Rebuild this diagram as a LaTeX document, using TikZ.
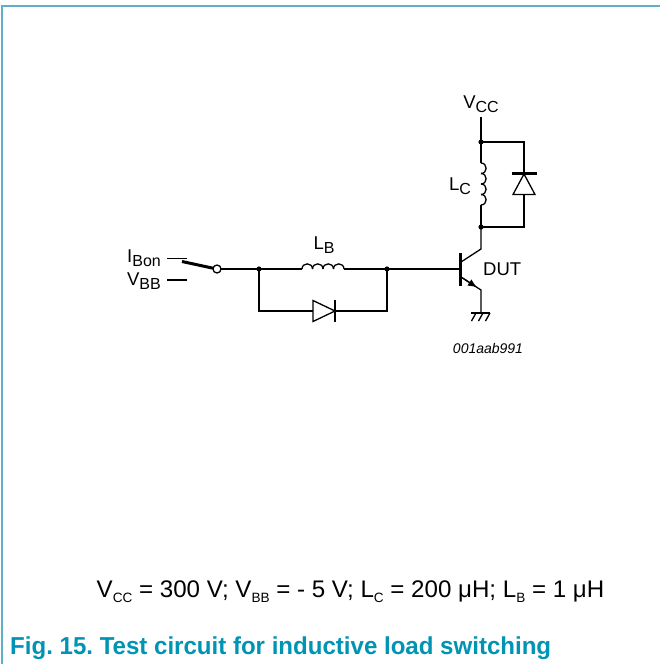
\documentclass[tikz,border=0pt]{standalone}
\usepackage{fontspec}
\setmainfont{Liberation Sans}
\newfontfamily\capfont[FakeStretch=0.982]{Liberation Sans}
\newfontfamily\formfont[FakeStretch=1.005]{Liberation Sans}
\usetikzlibrary{arrows.meta,calc}
\definecolor{framecol}{RGB}{95,175,200}
\definecolor{captcol}{RGB}{0,148,180}
\newcommand{\lsub}[1]{\raisebox{-0.45ex}{\fontsize{16}{16}\selectfont #1}}
\newcommand{\fsub}[1]{\raisebox{-0.4ex}{\fontsize{13.5}{13.5}\selectfont #1}}
\frenchspacing
\tikzset{
  wire/.style={line width=1.3pt, line join=miter},
  lbl/.style={inner sep=0pt, font=\fontsize{18.5}{18.5}\selectfont},
  dot/.style={fill=black},
  heavy/.style={line width=3pt},
}
\begin{document}
\begin{tikzpicture}[x=1pt,y=-1pt]
\useasboundingbox (0,0) rectangle (660,664);
% frame
\draw[framecol, line width=2pt] (1.5,664) -- (1.5,5.5) -- (660,5.5);

% coordinates
\coordinate (swA) at (182,261.5);
\coordinate (swO) at (217,269);
\coordinate (J1) at (259,269);
\coordinate (J2) at (387,269);
\coordinate (LBa) at (302,269);
\coordinate (LBb) at (344,269);
\coordinate (J1d) at (259,311);
\coordinate (J2d) at (387,311);
\coordinate (DBa) at (313,311);
\coordinate (DBb) at (335,311);
\coordinate (Bb) at (460,269);
\coordinate (Cb) at (461,262);
\coordinate (Ck) at (481,249);
\coordinate (Eb) at (461,277);
\coordinate (Ek) at (481,290);
\coordinate (Gd) at (481,313);
\coordinate (J3) at (481,227);
\coordinate (J4) at (481,142);
\coordinate (Vt) at (481,117);
\coordinate (LCa) at (481,163);
\coordinate (LCb) at (481,205);
\coordinate (R1) at (524,142);
\coordinate (R2) at (524,227);

% labels
\node[lbl, anchor=east] (ibon) at (161,258) {I\lsub{Bon}};
\node[lbl, anchor=east] (vbb) at (161,281) {V\lsub{BB}};
\coordinate (ibL) at (167,258.5);
\coordinate (ibR) at (187,258.5);
\coordinate (vbL) at (167,280);
\coordinate (vbR) at (187,280);
\draw[wire] (ibL) -- (ibR);
\draw[wire] (vbL) -- (vbR);
\draw[heavy] (swA) -- ($(swO)+(-4,-0.8)$);
\draw[wire, fill=white] (swO) circle (4);

\draw[wire] ($(swO)+(4,0)$) -- (J1) -- (LBa);
\foreach \i in {0,1,2,3} {
  \pgfmathsetmacro\a{302+10.5*\i}
  \pgfmathsetmacro\b{\a+10.5}
  \draw[wire] (\a,269) .. controls (\a,262.2) and (\b,262.2) .. (\b,269);
}
\draw[wire] (LBb) -- (J2) -- (Bb);
\draw[wire] (J1) -- (J1d) -- (J2d) -- (J2);
\node[lbl] (lb) at (324,245) {L\lsub{B}};
% base diode
\draw[wire, fill=white] (313,300.5) -- (313,321.5) -- (DBb) -- cycle;
\draw[line width=2.5pt] (335,300) -- (335,322);
\foreach \p in {J1,J2,J3,J4} \fill[dot] (\p) circle (2.6);

% transistor
\draw[heavy] (460,253) -- (460,286);
\draw[wire] (Cb) -- (Ck) -- (J3);
\draw[wire] (Eb) -- (Ek) -- (Gd);
\draw[-{Latex[length=9pt,width=7.5pt]}, line width=1.3pt] (Eb) -- ($(Eb)!0.8!(Ek)$);
\draw[wire] (471,313) -- (490,313);
\foreach \x in {476,483,490} \draw[wire] (\x,313) -- ++(-4.5,8);
\node[lbl, anchor=west] (dut) at (483,269.5) {DUT};
\node[inner sep=0pt, font=\fontsize{14}{14}\selectfont\itshape] (code) at (488,348) {001aab991};

% collector
\node[lbl] (vcc) at (481,104) {V\lsub{CC}};
\draw[wire] (Vt) -- (J4) -- (LCa);
\foreach \i in {0,1,2,3} {
  \pgfmathsetmacro\a{163+10.5*\i}
  \pgfmathsetmacro\b{\a+10.5}
  \draw[wire] (481,\a) .. controls (487.8,\a) and (487.8,\b) .. (481,\b);
}
\draw[wire] (LCb) -- (J3) -- (R2) -- (R1) -- (J4);
\node[lbl] (lc) at (460,186) {L\lsub{C}};
\draw[wire, fill=white] (513,194.5) -- (535,194.5) -- (524,174) -- cycle;
\draw[line width=2.5pt] (511.5,173.5) -- (536.5,173.5);

% formula
\node[inner sep=0pt, font=\fontsize{24}{24}\formfont] (formula) at (350.5,592)
 {V\fsub{CC} = 300 V; V\fsub{BB} = - 5 V; L\fsub{C} = 200 μH; L\fsub{B} = 1 μH};
% caption
\node[inner sep=0pt, anchor=base west, text=captcol, font=\fontsize{24.5}{24.5}\capfont\bfseries] (cap) at (10,654)
 {Fig. 15. Test circuit for inductive load switching};
\end{tikzpicture}
\end{document}
